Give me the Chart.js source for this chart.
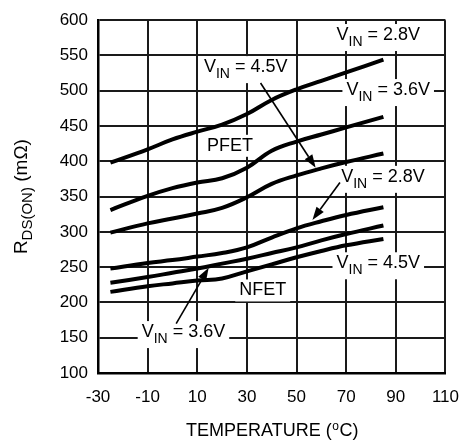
<!DOCTYPE html>
<html>
<head>
<meta charset="utf-8">
<script src="https://cdn.jsdelivr.net/npm/chart.js@4.4.1/dist/chart.umd.min.js"></script>
<style>
html,body{margin:0;padding:0;background:#fff;}
#wrap{width:473px;height:443px;}
</style>
</head>
<body>
<div id="wrap"><canvas id="c" width="473" height="443"></canvas></div>
<script>
// Temperatures (°C) at which values were read
const temps = [-25, -10, 0, 10, 20, 30, 40, 50, 60, 70, 85];
// RDS(ON) values (mΩ)
const pfet28 = [398, 417, 431, 442, 452, 467, 487, 502, 514, 526, 544];
const pfet36 = [331, 351, 362, 370, 376, 391, 415, 428, 438, 448, 463];
const pfet45 = [299, 312, 319, 326, 334, 349, 368, 380, 390, 399, 411];
const nfet28 = [248, 256, 260, 265, 270, 278, 292, 305, 315, 324, 335];
const nfet36 = [228, 236, 242, 248, 255, 262, 270, 278, 288, 297, 309];
const nfet45 = [215, 223, 227, 231, 234, 244, 254, 264, 273, 281, 290];
const xTicks = [-30, -10, 10, 30, 50, 70, 90, 110];
const yTicks = [100, 150, 200, 250, 300, 350, 400, 450, 500, 550, 600];

// Text annotations (data coordinates)
const notes = [
  {v:'V', sub:'IN', rest:' = 2.8V', x:66.1, y:579},
  {v:'V', sub:'IN', rest:' = 4.5V', x:12.7, y:533.5},
  {v:'V', sub:'IN', rest:' = 3.6V', x:70.1, y:501},
  {v:'PFET', sub:'', rest:'', x:13.9, y:422},
  {v:'V', sub:'IN', rest:' = 2.8V', x:68, y:378},
  {v:'V', sub:'IN', rest:' = 4.5V', x:66.1, y:255.5},
  {v:'NFET', sub:'', rest:'', x:26.9, y:217},
  {v:'V', sub:'IN', rest:' = 3.6V', x:-12.4, y:158}
];
// Arrows: from (x1,y1) to tip (x2,y2), data coordinates
const arrows = [
  [35.5, 511, 57.7, 391],
  [67.5, 370, 56.4, 317],
  [1.5, 170, 14.6, 249]
];

const FONT = '"Liberation Sans", Arial, Helvetica, sans-serif';
const series = [pfet28, pfet36, pfet45, nfet28, nfet36, nfet45];

const datasets = series.map(s => ({
  data: temps.map((t, i) => ({x: t, y: s[i]})),
  borderColor: '#000',
  borderWidth: 4,
  pointRadius: 0,
  fill: false,
  tension: 0.4
}));

function drawNote(ctx, n, px, py, box) {
  const mainF = '18px ' + FONT, subF = '14px ' + FONT;
  ctx.font = mainF; const w1 = ctx.measureText(n.v).width;
  ctx.font = subF; const w2 = n.sub ? ctx.measureText(n.sub).width : 0;
  ctx.font = mainF; const w3 = n.rest ? ctx.measureText(n.rest).width : 0;
  const tw = w1 + w2 + w3;
  if (box) {
    ctx.fillStyle = '#fff';
    ctx.fillRect(px - 4, py - 11, tw + 8, n.sub ? 27 : 22);
    return;
  }
  ctx.fillStyle = '#000';
  ctx.textBaseline = 'middle';
  ctx.textAlign = 'left';
  ctx.font = mainF; ctx.fillText(n.v, px, py);
  if (n.sub) { ctx.font = subF; ctx.fillText(n.sub, px + w1, py + 7); }
  if (n.rest) { ctx.font = mainF; ctx.fillText(n.rest, px + w1 + w2, py); }
}

const annot = {
  id: 'annot',
  beforeDatasetsDraw(chart) {
    const ctx = chart.ctx, xs = chart.scales.x, ys = chart.scales.y;
    ctx.save();
    notes.forEach(n => drawNote(ctx, n, xs.getPixelForValue(n.x), ys.getPixelForValue(n.y), true));
    notes.forEach(n => drawNote(ctx, n, xs.getPixelForValue(n.x), ys.getPixelForValue(n.y), false));
    ctx.restore();
  },
  afterDatasetsDraw(chart) {
    const ctx = chart.ctx, xs = chart.scales.x, ys = chart.scales.y;
    ctx.save();
    ctx.strokeStyle = '#000'; ctx.fillStyle = '#000'; ctx.lineWidth = 1.6;
    arrows.forEach(a => {
      const x1 = xs.getPixelForValue(a[0]), y1 = ys.getPixelForValue(a[1]);
      const x2 = xs.getPixelForValue(a[2]), y2 = ys.getPixelForValue(a[3]);
      const ang = Math.atan2(y2 - y1, x2 - x1);
      const L = 13, W = 4.5;
      const bx = x2 - L * Math.cos(ang), by = y2 - L * Math.sin(ang);
      ctx.beginPath(); ctx.moveTo(x1, y1); ctx.lineTo(bx, by); ctx.stroke();
      ctx.beginPath();
      ctx.moveTo(x2, y2);
      ctx.lineTo(bx + W * Math.sin(ang), by - W * Math.cos(ang));
      ctx.lineTo(bx - W * Math.sin(ang), by + W * Math.cos(ang));
      ctx.closePath(); ctx.fill();
    });
    // Axis titles
    ctx.fillStyle = '#000';
    const ca = chart.chartArea;
    ctx.textBaseline = 'middle';
    const f1 = '18px ' + FONT, f2 = '12px ' + FONT;
    const a1 = 'TEMPERATURE (', a2 = 'o', a3 = 'C)';
    ctx.font = f1; const w1 = ctx.measureText(a1).width, w3 = ctx.measureText(a3).width;
    ctx.font = f2; const w2 = ctx.measureText(a2).width;
    let sx = (ca.left + ca.right) / 2 - (w1 + w2 + w3) / 2;
    const ty = 431;
    ctx.textAlign = 'left';
    ctx.font = f1; ctx.fillText(a1, sx, ty);
    ctx.font = f2; ctx.fillText(a2, sx + w1 + 0.5, ty - 4);
    ctx.font = f1; ctx.fillText(a3, sx + w1 + w2 + 1, ty);
    // Y title
    ctx.translate(22, (ca.top + ca.bottom) / 2);
    ctx.rotate(-Math.PI / 2);
    const b1 = 'R', b2 = 'DS(ON)', b3 = ' (m\u03A9)';
    const g1 = '19px ' + FONT, g2 = '15px ' + FONT;
    ctx.font = g1; const v1 = ctx.measureText(b1).width, v3 = ctx.measureText(b3).width;
    ctx.font = g2; const v2 = ctx.measureText(b2).width;
    let s = -(v1 + v2 + v3) / 2;
    ctx.font = g1; ctx.fillText(b1, s, 0);
    ctx.font = g2; ctx.fillText(b2, s + v1, 6);
    ctx.font = g1; ctx.fillText(b3, s + v1 + v2, 0);
    ctx.restore();
  }
};

new Chart(document.getElementById('c'), {
  type: 'line',
  data: { datasets },
  plugins: [annot],
  options: {
    responsive: false,
    animation: false,
    devicePixelRatio: 1,
    layout: { padding: { left: 0, right: 18, top: 19, bottom: 0 } },
    plugins: { legend: { display: false }, tooltip: { enabled: false } },
    scales: {
      x: {
        type: 'linear', min: -30, max: 110,
        afterBuildTicks: sc => { sc.ticks = xTicks.map(v => ({value: v})); },
        afterFit: sc => { sc.height = 70; },
        grid: { color: '#1a1a1a', lineWidth: 2, drawTicks: false },
        border: { color: '#000', width: 2.5 },
        ticks: { color: '#000', font: { family: FONT, size: 17 }, padding: 14, maxRotation: 0, autoSkip: false }
      },
      y: {
        type: 'linear', min: 100, max: 600,
        afterBuildTicks: sc => { sc.ticks = yTicks.map(v => ({value: v})); },
        afterFit: sc => { sc.width = 98; },
        grid: { color: '#1a1a1a', lineWidth: 2, drawTicks: false },
        border: { color: '#000', width: 2.5 },
        ticks: { color: '#000', font: { family: FONT, size: 17 }, padding: 10, autoSkip: false }
      }
    }
  }
});
</script>
</body>
</html>
